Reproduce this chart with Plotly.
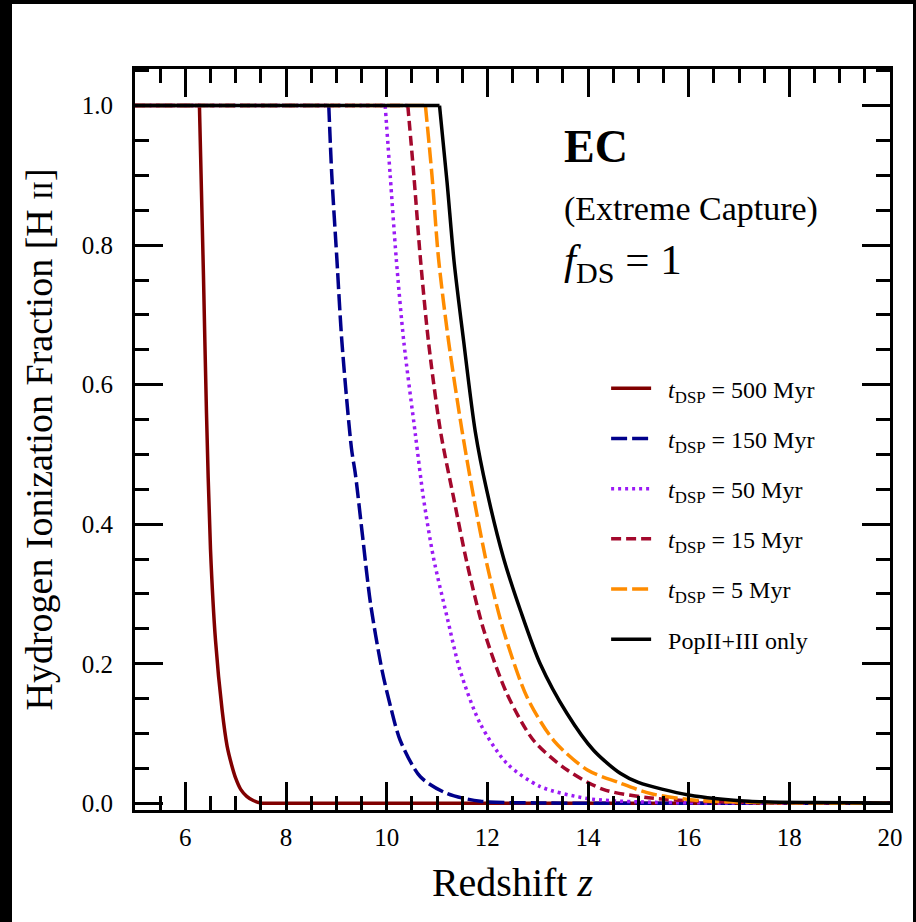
import plotly.graph_objects as go

# Redshift grid points and hydrogen ionization fraction for each model
z_500 = [5, 6.28, 6.36, 6.42, 6.50, 6.60, 6.73, 6.83, 6.92, 7.0, 7.1, 7.22, 7.35, 7.5, 7.8, 10.0, 20]
x_500 = [1, 1, 0.757, 0.56, 0.364, 0.233, 0.134, 0.082, 0.055, 0.036, 0.02, 0.010, 0.004, 0.0005, 0.0, 0.0, 0.0]

z_150 = [5, 8.85, 8.91, 9.01, 9.11, 9.30, 9.38, 9.51, 9.68, 9.91, 10.09, 10.27, 10.67, 11.20, 11.86, 13.0, 15.0, 20]
x_150 = [1, 1, 0.9, 0.781, 0.662, 0.509, 0.471, 0.390, 0.286, 0.190, 0.135, 0.090, 0.038, 0.014, 0.003, 0.0005, 0.0, 0.0]

z_50 = [5, 9.97, 10.07, 10.19, 10.34, 10.57, 10.73, 10.93, 11.20, 11.46, 11.86, 12.39, 13.05, 13.98, 15.0, 16.5, 20]
x_50 = [1, 1, 0.9, 0.781, 0.662, 0.529, 0.438, 0.352, 0.267, 0.190, 0.114, 0.057, 0.024, 0.007, 0.002, 0.0005, 0.0]

z_15 = [5, 10.42, 10.54, 10.67, 10.83, 11.07, 11.33, 11.60, 11.93, 12.39, 12.92, 13.58, 14.3, 15.2, 16.2, 17.5, 20]
x_15 = [1, 1, 0.9, 0.781, 0.662, 0.533, 0.438, 0.343, 0.248, 0.157, 0.090, 0.048, 0.020, 0.008, 0.003, 0.001, 0.0]

z_5 = [5, 10.77, 10.90, 11.03, 11.23, 11.50, 11.73, 11.99, 12.32, 12.79, 13.32, 13.98, 14.6, 15.24, 16.2, 17.5, 20]
x_5 = [1, 1, 0.9, 0.781, 0.662, 0.533, 0.438, 0.343, 0.248, 0.152, 0.090, 0.048, 0.030, 0.014, 0.004, 0.001, 0.0]

z_pop = [5, 11.05, 11.20, 11.34, 11.53, 11.76, 11.99, 12.32, 12.66, 13.05, 13.58, 14.11, 14.64, 15.0, 16.0, 17.2, 18.5, 20]
x_pop = [1, 1, 0.89, 0.776, 0.662, 0.533, 0.448, 0.352, 0.276, 0.200, 0.129, 0.076, 0.043, 0.030, 0.012, 0.003, 0.001, 0.0005]

labels = [
    "<i>t</i><sub>DSP</sub> = 500 Myr",
    "<i>t</i><sub>DSP</sub> = 150 Myr",
    "<i>t</i><sub>DSP</sub> = 50 Myr",
    "<i>t</i><sub>DSP</sub> = 15 Myr",
    "<i>t</i><sub>DSP</sub> = 5 Myr",
    "PopII+III only",
]
series_z = [z_500, z_150, z_50, z_15, z_5, z_pop]
series_x = [x_500, x_150, x_50, x_15, x_5, x_pop]
colors = ["#800000", "#00008B", "#9B1AF5", "#A3082C", "#FF8C00", "#000000"]
dashes = ["solid", "16px,5px", "3px,4px", "10px,5px", "16px,5px", "solid"]

x_ticks = [6, 8, 10, 12, 14, 16, 18, 20]
y_ticks = [0.0, 0.2, 0.4, 0.6, 0.8, 1.0]

FONT = "Liberation Serif"
LW = 3.5

fig = go.Figure()
for i, (zz, xx, lab, col, dsh) in enumerate(zip(series_z, series_x, labels, colors, dashes)):
    # fully ionized plateau, then the smooth decline towards high redshift
    k = max(j for j, v in enumerate(xx) if v >= 1.0)
    fig.add_trace(go.Scatter(
        x=zz[:k + 1], y=xx[:k + 1], mode="lines", legendgroup=f"g{i}", showlegend=False,
        line=dict(color=col, width=LW, dash=dsh), hoverinfo="skip",
    ))
    fig.add_trace(go.Scatter(
        x=zz[k:], y=xx[k:], mode="lines", name="\u00a0\u00a0" + lab,
        legendgroup=f"g{i}",
        line=dict(color=col, width=LW, dash=dsh, shape="spline", smoothing=0.8),
    ))

axis_common = dict(
    showline=True, linecolor="black", linewidth=3, mirror="allticks",
    ticks="inside", ticklen=28, tickwidth=3, tickcolor="black",
    showgrid=False, zeroline=False,
    tickfont=dict(family=FONT, size=25, color="black"),
)

fig.update_xaxes(
    range=[5, 20], tickvals=x_ticks,
    minor=dict(dtick=0.5, ticklen=14, tickwidth=3, tickcolor="black", ticks="inside"),
    title=dict(text="Redshift <i>z</i>", font=dict(family=FONT, size=40, color="black"), standoff=18),
    ticklabelstandoff=3,
    **axis_common,
)
fig.update_yaxes(
    range=[-0.0096, 1.0524], tickvals=y_ticks, tickformat=".1f",
    minor=dict(dtick=0.05, ticklen=14, tickwidth=3, tickcolor="black", ticks="inside"),
    title=dict(text="Hydrogen Ionization Fraction [H <span style='font-size:28px'>II</span>]",
               font=dict(family=FONT, size=38, color="black"), standoff=18),
    ticklabelstandoff=14,
    **axis_common,
)

fig.add_annotation(x=0.565, y=0.895, xref="paper", yref="paper", xanchor="left", yanchor="middle",
                   text="<b>EC</b>", showarrow=False,
                   font=dict(family=FONT, size=46, color="black"))
fig.add_annotation(x=0.565, y=0.811, xref="paper", yref="paper", xanchor="left", yanchor="middle",
                   text="(Extreme Capture)", showarrow=False,
                   font=dict(family=FONT, size=34, color="black"))
fig.add_annotation(x=0.565, y=0.738, xref="paper", yref="paper", xanchor="left", yanchor="middle",
                   text="<i>f</i><sub>DS</sub> = 1", showarrow=False,
                   font=dict(family=FONT, size=43, color="black"))

# black frame around the white canvas
fig.add_shape(type="rect", xref="paper", yref="paper", layer="below",
              x0=(12 - 135) / 755, x1=(913 - 135) / 755, y0=-112 / 741, y1=(810 - 4) / 741,
              fillcolor="white", line=dict(width=0))

fig.update_layout(
    width=916, height=922,
    margin=dict(l=135, r=26, t=69, b=112),
    paper_bgcolor="black", plot_bgcolor="white",
    showlegend=True,
    legend=dict(x=0.624, y=0.599, xanchor="left", yanchor="top",
                bgcolor="rgba(0,0,0,0)", traceorder="grouped", tracegroupgap=16,
                itemwidth=40,
                font=dict(family=FONT, size=24, color="black")),
)

fig.write_html("out.html")
